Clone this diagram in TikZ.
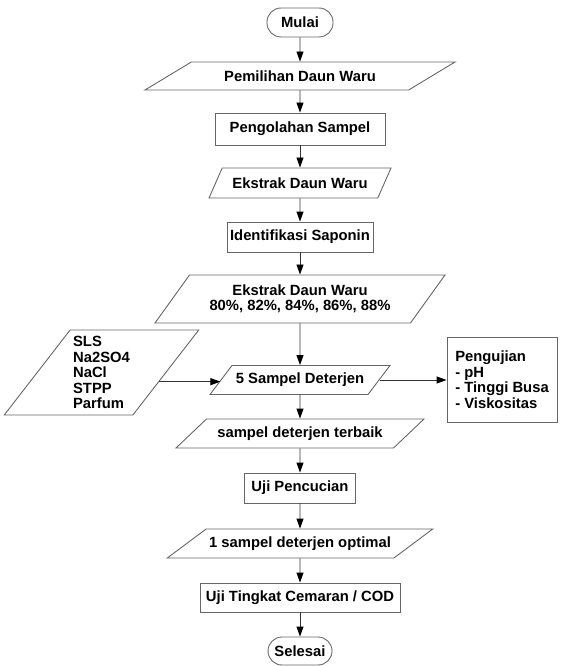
\documentclass[tikz,border=0pt]{standalone}
\usepackage{fontspec}
\setmainfont{Liberation Sans}
\usetikzlibrary{shapes.geometric,arrows.meta}
\begin{document}
\begin{tikzpicture}[x=1pt,y=-1pt,font=\fontsize{14.8}{15.5}\selectfont\bfseries]
  \tikzset{kotak/.style={draw=black!60,line width=0.9pt,rectangle,minimum height=30pt,inner sep=3pt},
    ujung/.style={kotak,rounded corners=14pt,minimum height=29pt},
    data/.style={draw=black!60,line width=0.9pt,trapezium,trapezium stretches body,
      trapezium left angle=#1,trapezium right angle=180-#1,inner sep=3pt},
    panah/.style={draw=black!80,line width=0.9pt,-{Triangle[length=10pt,width=7pt,color=black]}}}
  \useasboundingbox (0,0) rectangle (563,666);
  \node[ujung,minimum width=66pt] (mulai) at (300,22.5) {Mulai};
  \node[data=20,minimum width=310pt,minimum height=28pt] (pilih) at (300,76) {Pemilihan Daun Waru};
  \node[kotak,minimum width=170pt,minimum height=32pt] (olah) at (300,129) {Pengolahan Sampel};
  \node[data=52,minimum width=182pt,minimum height=30pt] (ekstrak) at (300,183) {Ekstrak Daun Waru};
  \node[kotak,minimum width=146pt] (identif) at (300,237) {Identifikasi Saponin};
  \node[data=45,minimum width=290pt,minimum height=48pt,align=center] (konsen) at (300,299)
    {Ekstrak Daun Waru\\80\%, 82\%, 84\%, 86\%, 88\%};
  \node[data=50,minimum width=187pt,minimum height=85pt,align=left] (bahan) at (101.5,372.5)
    {SLS\\Na2SO4\\NaCl\\STPP\\Parfum};
  \node[data=42,minimum width=180pt,minimum height=29pt] (sampel) at (300,380) {5 Sampel Deterjen};
  \node[kotak,minimum width=110pt,minimum height=85pt,align=left] (uji) at (502,379.5)
    {Pengujian\\- pH\\- Tinggi Busa\\- Viskositas};
  \node[data=33,minimum width=248pt,minimum height=29pt] (terbaik) at (300,433.5) {sampel deterjen terbaik};
  \node[kotak,minimum width=111pt] (cuci) at (300,488) {Uji Pencucian};
  \node[data=27,minimum width=265pt,minimum height=29pt] (optimal) at (300,543.5) {1 sampel deterjen optimal};
  \node[kotak,minimum width=200pt,minimum height=29pt] (cemar) at (300,597.5) {Uji Tingkat Cemaran / COD};
  \node[ujung,minimum width=64pt,minimum height=28pt] (selesai) at (300,651) {Selesai};
  \draw[panah] (mulai)--(pilih); \draw[panah] (pilih)--(olah);
  \draw[panah] (olah)--(ekstrak); \draw[panah] (ekstrak)--(identif);
  \draw[panah] (identif)--(konsen); \draw[panah] (konsen)--(sampel);
  \draw[panah] (bahan.-9)--(bahan.-9 -| sampel.west);
  \draw[panah] (sampel.east)--(sampel.east -| uji.west);
  \draw[panah] (sampel)--(terbaik); \draw[panah] (terbaik)--(cuci);
  \draw[panah] (cuci)--(optimal); \draw[panah] (optimal)--(cemar);
  \draw[panah] (cemar)--(selesai);
\end{tikzpicture}
\end{document}
